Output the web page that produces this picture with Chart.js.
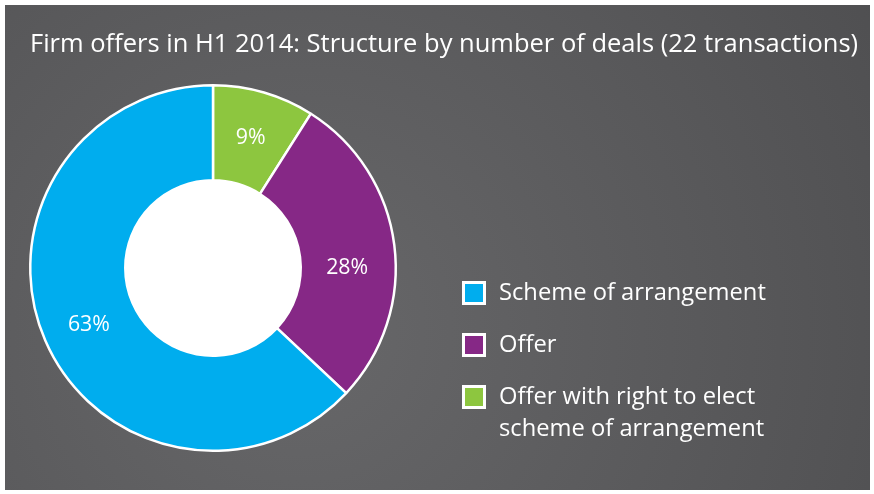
<!DOCTYPE html>
<html>
<head>
<meta charset="utf-8">
<title>Firm offers in H1 2014</title>
<script src="https://cdn.jsdelivr.net/npm/chart.js@4/dist/chart.umd.min.js"></script>
<style>
  html, body { margin: 0; padding: 0; background: #ffffff; }
  #wrap { position: relative; width: 874px; height: 494px; }
  canvas { position: absolute; left: 0; top: 0; }
</style>
</head>
<body>
<div id="wrap"><canvas id="chart" width="874" height="494"></canvas></div>
<script>
// Chart data
const titleText = 'Firm offers in H1 2014: Structure by number of deals (22 transactions)';
const categories = ['Offer with right to elect scheme of arrangement', 'Offer', 'Scheme of arrangement'];
const shares = [9, 28, 63];
const colors = ['#8dc63f', '#862886', '#00adee'];
// legend shows the slices in reverse order, long label split on two lines
const legendLines = [
    ['Scheme of arrangement'],
    ['Offer'],
    ['Offer with right to elect', 'scheme of arrangement']
];
const legendColors = ['#00adee', '#862886', '#8dc63f'];

const FONT = '"Open Sans", sans-serif';

// pick a font size so the text spans the given width
function fitFont(ctx, text, width) {
    ctx.font = '20px ' + FONT;
    const w = ctx.measureText(text).width;
    return (20 * width / w).toFixed(2) + 'px ' + FONT;
}

// Gray panel behind everything
const backgroundPlugin = {
    id: 'panel',
    beforeDraw(chart) {
        const ctx = chart.ctx;
        ctx.save();
        const g = ctx.createRadialGradient(300, 330, 40, 300, 330, 700);
        g.addColorStop(0, '#666668');
        g.addColorStop(1, '#4e4e50');
        ctx.fillStyle = g;
        ctx.fillRect(5, 5, 865, 485);
        ctx.restore();
    }
};

// small nudges for the slice labels
const labelShiftY = [0, 17, 3];

// White hole, slice labels, title and legend
const decorPlugin = {
    id: 'decor',
    beforeDatasetsDraw(chart) {
        const arc = chart.getDatasetMeta(0).data[0];
        if (!arc) return;
        const ctx = chart.ctx;
        ctx.save();
        ctx.fillStyle = '#ffffff';
        ctx.beginPath();
        ctx.arc(arc.x, arc.y, arc.innerRadius, 0, Math.PI * 2);
        ctx.fill();
        ctx.restore();
    },
    afterDatasetsDraw(chart) {
        const ctx = chart.ctx;
        ctx.save();
        ctx.fillStyle = '#ffffff';
        ctx.textAlign = 'center';
        ctx.textBaseline = 'middle';
        ctx.font = fitFont(ctx, '28%', 42);
        chart.getDatasetMeta(0).data.forEach((el, i) => {
            const p = el.tooltipPosition();
            ctx.fillText(shares[i] + '%', p.x, p.y + labelShiftY[i]);
        });

        // title
        ctx.textAlign = 'left';
        ctx.font = fitFont(ctx, titleText, 828);
        ctx.fillText(titleText, 30, 45);

        // legend
        ctx.font = fitFont(ctx, 'Scheme of arrangement', 267);
        const rowY = [293, 345, 397];
        legendLines.forEach((lines, i) => {
            const y = rowY[i];
            ctx.fillStyle = '#ffffff';
            ctx.fillRect(462, y - 12, 24, 24);
            ctx.fillStyle = legendColors[i];
            ctx.fillRect(465, y - 9, 18, 18);
            ctx.fillStyle = '#ffffff';
            lines.forEach((t, k) => ctx.fillText(t, 499, y + k * 32));
        });
        ctx.restore();
    }
};

new Chart(document.getElementById('chart'), {
    type: 'doughnut',
    data: {
        labels: categories,
        datasets: [{
            data: shares,
            backgroundColor: colors,
            borderColor: '#ffffff',
            borderWidth: 2.5,
            borderAlign: 'center'
        }]
    },
    options: {
        responsive: false,
        animation: false,
        cutout: '48%',
        layout: { padding: { left: 29, right: 477, top: 84, bottom: 42 } },
        plugins: {
            legend: { display: false },
            title: { display: false },
            tooltip: { enabled: false }
        }
    },
    plugins: [backgroundPlugin, decorPlugin]
});
</script>
</body>
</html>
